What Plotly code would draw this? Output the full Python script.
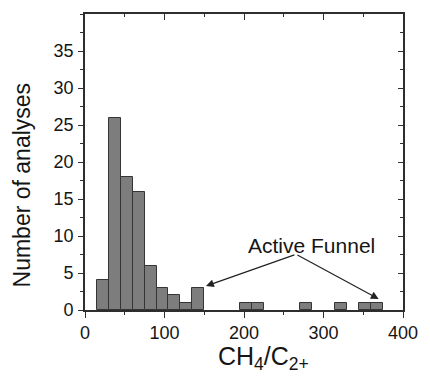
import plotly.graph_objects as go

# Histogram of CH4/C2+ ratios, bin width 15
bin_left = [15, 30, 45, 60, 75, 90, 105, 120, 135, 195, 210, 270, 315, 345, 360]
counts = [4, 26, 18, 16, 6, 3, 2, 1, 3, 1, 1, 1, 1, 1, 1]
bin_width = 15
bin_center = [b + bin_width / 2 for b in bin_left]

x_ticks = [0, 100, 200, 300, 400]
y_ticks = [0, 5, 10, 15, 20, 25, 30, 35]

FONT = "Liberation Sans, Arial, sans-serif"
INK = "#151515"
FRAME = "#2e2e2e"

fig = go.Figure()
fig.add_trace(go.Bar(
    x=bin_center, y=counts, width=bin_width,
    marker=dict(color="#7d7d7d", line=dict(color="#353535", width=1)),
    hoverinfo="x+y", showlegend=False,
))
# helper trace so the mirrored (top/right) axes are drawn
fig.add_trace(go.Scatter(x=[None], y=[None], xaxis="x2", yaxis="y2",
                         showlegend=False, hoverinfo="skip"))

fig.update_layout(
    width=430, height=379,
    margin=dict(l=85, r=18.5, t=14, b=69),
    paper_bgcolor="white", plot_bgcolor="white",
    font=dict(family=FONT, color=INK, size=18),
    bargap=0,
    xaxis=dict(
        range=[0, 400], tickvals=x_ticks, ticks="outside", ticklen=6,
        tickwidth=1.3, tickcolor=FRAME, showline=True, linecolor=FRAME,
        linewidth=1.6, showgrid=False, zeroline=False,
        tickfont=dict(size=18, family=FONT, color=INK),
        minor=dict(ticks="outside", ticklen=3.5, dtick=50, tick0=0,
                   tickcolor=FRAME, tickwidth=1.2, showgrid=False),
    ),
    yaxis=dict(
        range=[0, 40], tickvals=y_ticks, ticks="outside", ticklen=5,
        tickwidth=1.3, tickcolor=FRAME, showline=True, linecolor=FRAME,
        linewidth=1.6, showgrid=False, zeroline=False,
        tickfont=dict(size=18, family=FONT, color=INK),
        ticklabelstandoff=1,
        minor=dict(ticks="outside", ticklen=3, dtick=2.5, tick0=0,
                   tickcolor=FRAME, tickwidth=1.2, showgrid=False),
    ),
    xaxis2=dict(
        overlaying="x", side="top", range=[0, 400], tickvals=x_ticks,
        ticks="inside", ticklen=6, tickwidth=1.3, tickcolor=FRAME,
        showticklabels=False, showline=True, linecolor=FRAME, linewidth=1.6,
        showgrid=False, zeroline=False,
        minor=dict(ticks="inside", ticklen=3.5, dtick=50, tick0=0,
                   tickcolor=FRAME, tickwidth=1.2, showgrid=False),
    ),
    yaxis2=dict(
        overlaying="y", side="right", range=[0, 40], tickvals=y_ticks,
        ticks="inside", ticklen=5, tickwidth=1.3, tickcolor=FRAME,
        showticklabels=False, showline=True, linecolor=FRAME, linewidth=1.6,
        showgrid=False, zeroline=False,
        minor=dict(ticks="inside", ticklen=3, dtick=2.5, tick0=0,
                   tickcolor=FRAME, tickwidth=1.2, showgrid=False),
    ),
)

# axis titles
fig.add_annotation(
    text="Number of analyses", xref="paper", yref="paper",
    x=-0.197, y=0.422, xanchor="center", yanchor="middle",
    textangle=-90, showarrow=False,
    font=dict(size=23, family=FONT, color=INK),
)
fig.add_annotation(
    text="CH<sub>4</sub>/C<sub>2+</sub>", xref="paper", yref="paper",
    x=0.5605, y=-0.162, xanchor="center", yanchor="middle",
    showarrow=False, font=dict(size=25, family=FONT, color=INK),
)

# "Active Funnel" label with two arrows
fig.add_annotation(
    text="Active Funnel", x=285.3, y=8.77, xref="x", yref="y",
    showarrow=False, font=dict(size=21, family=FONT, color=INK),
)
tail = (265.3, 7.53)
for head in [(152.2, 3.24), (369.4, 1.49)]:
    fig.add_annotation(
        text="", x=head[0], y=head[1], ax=tail[0], ay=tail[1],
        xref="x", yref="y", axref="x", ayref="y",
        showarrow=True, arrowhead=2, arrowsize=1.3, arrowwidth=1.2,
        arrowcolor="#222222",
    )

fig.write_html("out.html")
